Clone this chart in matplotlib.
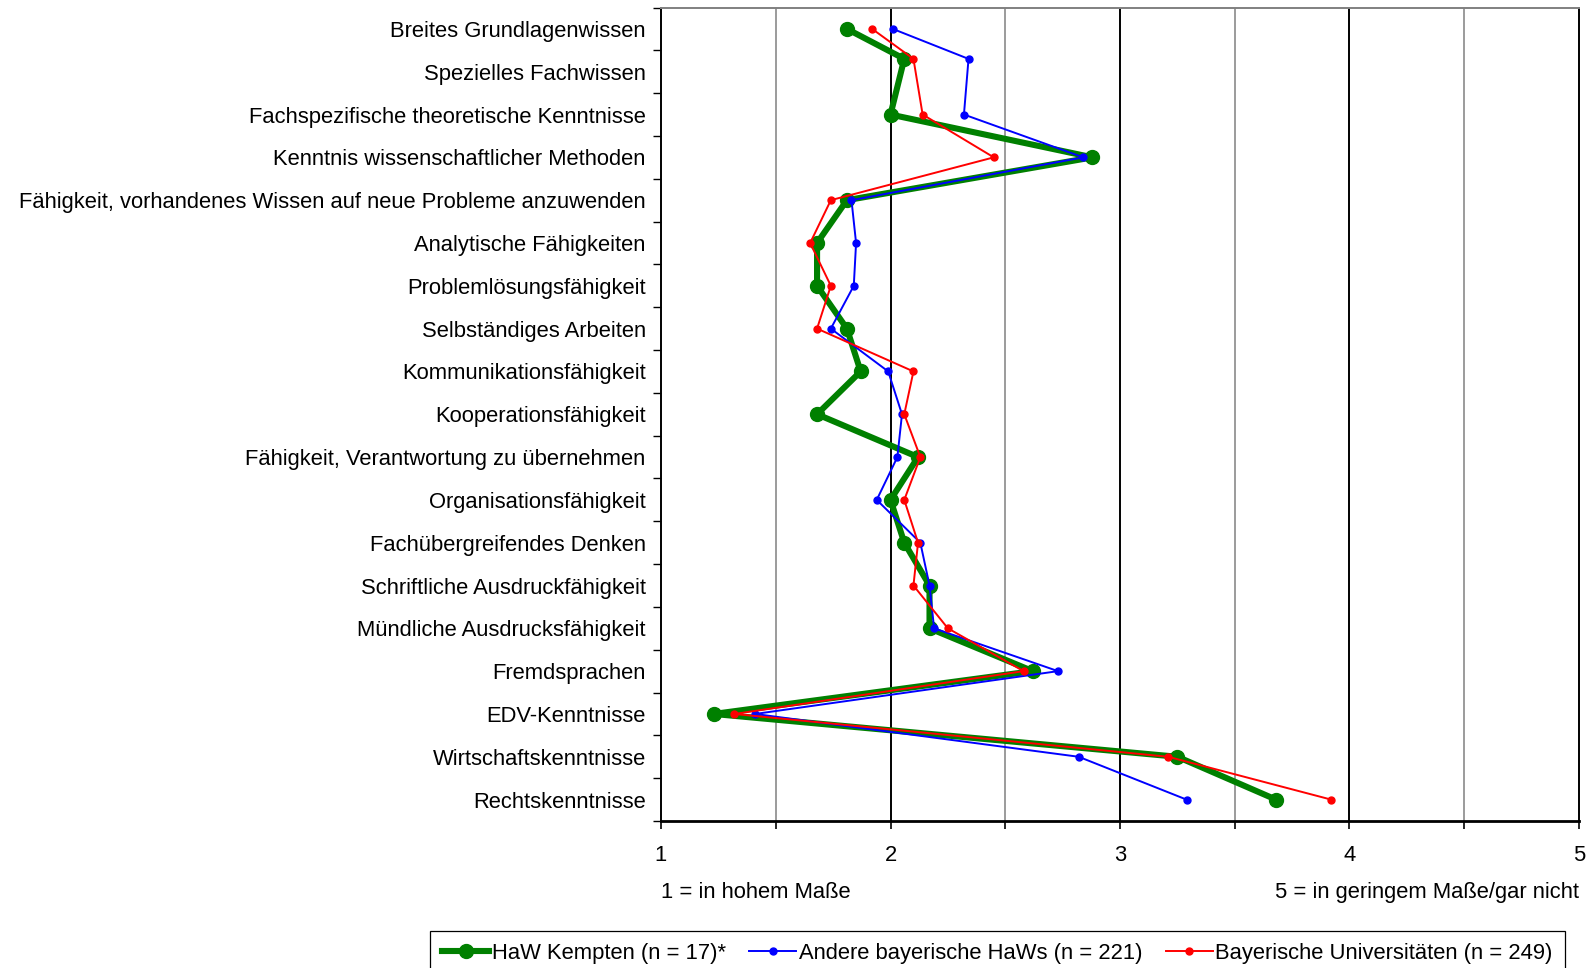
import matplotlib
matplotlib.use("Agg")
import matplotlib.pyplot as plt
from matplotlib.ticker import FixedLocator, NullFormatter

plt.rcParams['font.family'] = ['Liberation Sans', 'DejaVu Sans']

categories = [
    "Breites Grundlagenwissen",
    "Spezielles Fachwissen",
    "Fachspezifische theoretische Kenntnisse",
    "Kenntnis wissenschaftlicher Methoden",
    "Fähigkeit, vorhandenes Wissen auf neue Probleme anzuwenden",
    "Analytische Fähigkeiten",
    "Problemlösungsfähigkeit",
    "Selbständiges Arbeiten",
    "Kommunikationsfähigkeit",
    "Kooperationsfähigkeit",
    "Fähigkeit, Verantwortung zu übernehmen",
    "Organisationsfähigkeit",
    "Fachübergreifendes Denken",
    "Schriftliche Ausdruckfähigkeit",
    "Mündliche Ausdrucksfähigkeit",
    "Fremdsprachen",
    "EDV-Kenntnisse",
    "Wirtschaftskenntnisse",
    "Rechtskenntnisse",
]

# row (y value) at which each data point is plotted in the original chart
# (the second item is plotted somewhat above its label in the source)
point_rows = [0, 0.7, 2, 3, 4, 5, 6, 7, 8, 9,
              10, 11, 12, 13, 14, 15, 16, 17, 18]

kempten = [1.81, 2.06, 2.00, 2.88, 1.81, 1.68, 1.68, 1.81, 1.87, 1.68,
           2.12, 2.00, 2.06, 2.17, 2.17, 2.62, 1.23, 3.25, 3.68]
andere_haws = [2.01, 2.34, 2.32, 2.84, 1.83, 1.85, 1.84, 1.74, 1.99, 2.05,
               2.03, 1.94, 2.13, 2.17, 2.19, 2.73, 1.41, 2.82, 3.29]
unis = [1.92, 2.10, 2.14, 2.45, 1.74, 1.65, 1.74, 1.68, 2.10, 2.06,
        2.13, 2.06, 2.12, 2.10, 2.25, 2.58, 1.32, 3.21, 3.92]

series_labels = ["HaW Kempten (n = 17)*",
                 "Andere bayerische HaWs (n = 221)",
                 "Bayerische Universitäten (n = 249)"]

x_ticks = [1, 2, 3, 4, 5]
left_note = "1 = in hohem Maße"
right_note = "5 = in geringem Maße/gar nicht"

FS = 15.8

fig = plt.figure(figsize=(15.92, 9.68), dpi=100)
ax = fig.add_axes([661/1592, 1 - 821/968, (1579-661)/1592, (821-7.5)/968])

label_rows = list(range(len(categories)))

ax.plot(kempten, point_rows, color='#008000', lw=4.4, marker='o', ms=10,
        label=series_labels[0], zorder=3, solid_joinstyle='round')
ax.plot(andere_haws, point_rows, color='#0000ff', lw=1.4, marker='o', ms=5,
        label=series_labels[1], zorder=4)
ax.plot(unis, point_rows, color='#ff0000', lw=1.4, marker='o', ms=5,
        label=series_labels[2], zorder=5)

ax.set_xlim(1, 5)
ax.set_ylim(len(categories) - 0.5, -0.5)

# gridlines
for v in [1.5, 2, 2.5, 3, 3.5, 4, 4.5]:
    if float(v).is_integer():
        ax.axvline(v, color='black', lw=1.4, zorder=1)
    else:
        ax.axvline(v, color='#808080', lw=1.1, zorder=1)

# y ticks: labels at centers, tick marks at boundaries
ax.set_yticks(label_rows)
ax.set_yticklabels(categories, fontsize=FS)
ax.tick_params(axis='y', which='major', length=0, pad=11)
ax.yaxis.set_minor_locator(FixedLocator([i - 0.5 for i in range(len(categories) + 1)]))
ax.tick_params(axis='y', which='minor', length=6, width=1, color='black', direction='out')

# x ticks
ax.set_xticks(x_ticks)
ax.set_xticklabels([str(t) for t in x_ticks], fontsize=FS)
ax.xaxis.set_minor_locator(FixedLocator([1.5, 2.5, 3.5, 4.5]))
ax.xaxis.set_minor_formatter(NullFormatter())
ax.tick_params(axis='x', which='both', length=6, width=1.2, direction='out', pad=11)

for s in ['left', 'right']:
    ax.spines[s].set_color('black')
    ax.spines[s].set_linewidth(1.4)
ax.spines['bottom'].set_color('black')
ax.spines['bottom'].set_linewidth(2.0)
ax.spines['top'].set_color('#808080')
ax.spines['top'].set_linewidth(1.4)

ax.text(0, -0.088, left_note, transform=ax.transAxes, ha='left', va='center', fontsize=FS)
ax.text(1, -0.088, right_note, transform=ax.transAxes, ha='right', va='center', fontsize=FS)

leg = fig.legend(loc='upper center', bbox_to_anchor=(997.5/1592, 1 - 931/968),
                 ncol=3, fontsize=FS, frameon=True, fancybox=False, framealpha=1,
                 edgecolor='black', numpoints=1, handlelength=2.15, handletextpad=0.12,
                 columnspacing=1.05, borderpad=0.55, borderaxespad=0)
leg.get_frame().set_linewidth(0.9)

fig.savefig("out.png", dpi=100)
